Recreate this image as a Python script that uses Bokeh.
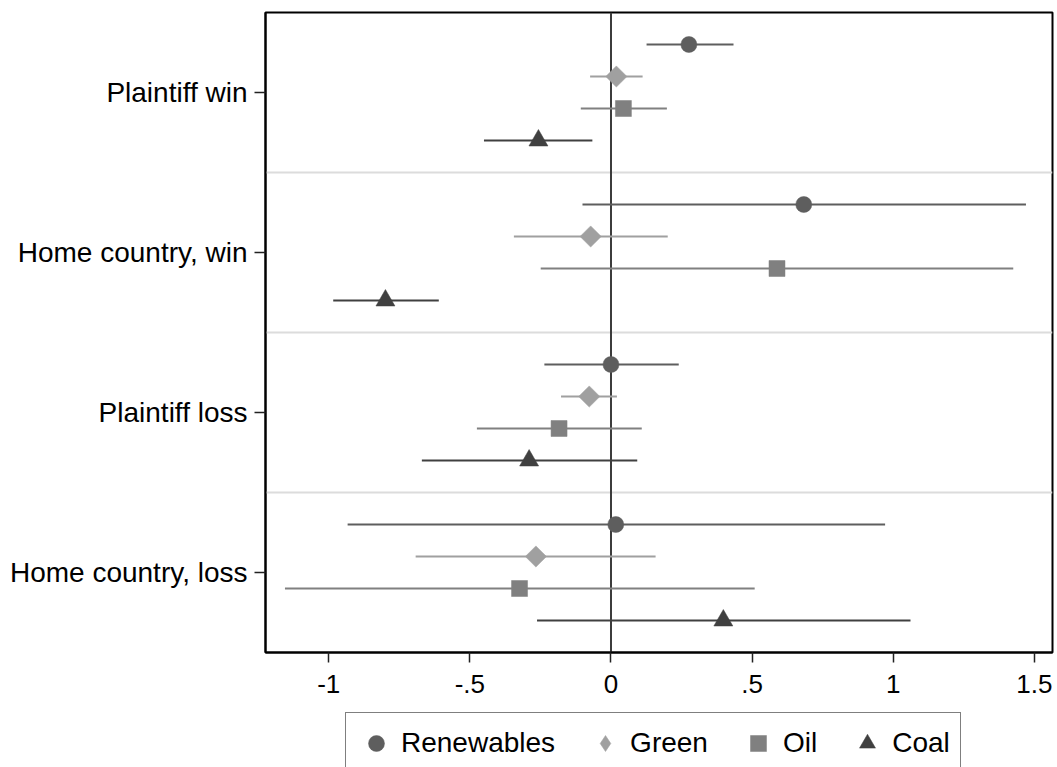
import math
from bokeh.plotting import figure
from bokeh.layouts import column
from bokeh.models import (Range1d, FixedTicker, Span, Legend, LegendItem, ColumnDataSource)
from bokeh.embed import file_html
from bokeh.resources import INLINE

# ---- data ----
groups = ["Plaintiff win", "Home country, win", "Plaintiff loss", "Home country, loss"]
series = ["Renewables", "Green", "Oil", "Coal"]

renew_est = [0.276, 0.683, 0.000, 0.017]
renew_lo = [0.126, -0.101, -0.236, -0.933]
renew_hi = [0.434, 1.470, 0.240, 0.971]

green_est = [0.019, -0.072, -0.077, -0.266]
green_lo = [-0.074, -0.344, -0.177, -0.692]
green_hi = [0.112, 0.201, 0.021, 0.158]

oil_est = [0.044, 0.588, -0.184, -0.324]
oil_lo = [-0.107, -0.249, -0.475, -1.155]
oil_hi = [0.198, 1.425, 0.109, 0.509]

coal_est = [-0.257, -0.799, -0.290, 0.398]
coal_lo = [-0.450, -0.984, -0.670, -0.262]
coal_hi = [-0.066, -0.610, 0.093, 1.061]

x_ticks = [-1, -0.5, 0, 0.5, 1, 1.5]
x_tick_labels = ["-1", "-.5", "0", ".5", "1", "1.5"]

# ---- styles ----
FONT = "Liberation Sans"
styles = [
    dict(marker="circle", size=16, color="#5e5e5e", angle=0.0, lmarker="circle"),
    dict(marker="square", size=15, color="#a0a0a0", angle=math.pi / 4, lmarker="diamond"),
    dict(marker="square", size=16, color="#808080", angle=0.0, lmarker="square"),
    dict(marker="triangle", size=19, color="#404040", angle=0.0, lmarker="triangle"),
]
all_est = [renew_est, green_est, oil_est, coal_est]
all_lo = [renew_lo, green_lo, oil_lo, coal_lo]
all_hi = [renew_hi, green_hi, oil_hi, coal_hi]

p = figure(
    width=1057, height=707,
    x_range=Range1d(-1.2239, 1.564), y_range=Range1d(20, 0),
    output_backend="svg", toolbar_location=None,
    min_border_left=265, min_border_top=12, min_border_right=5, min_border_bottom=55,
)
p.xgrid.visible = False
p.ygrid.visible = False
p.outline_line_color = "black"
p.outline_line_width = 2
p.background_fill_color = "white"
p.border_fill_color = "white"

# separators & zero line
for loc in [5, 10, 15]:
    p.add_layout(Span(location=loc, dimension="width", line_color="#dcdcdc",
                      line_width=2, level="underlay"))
p.add_layout(Span(location=0, dimension="height", line_color="#3c3c3c",
                  line_width=2, level="underlay"))

# legend strip (separate figure below the chart; its frame is aligned with the chart's)
leg = figure(
    width=1057, height=60, x_range=Range1d(100, 101), y_range=Range1d(100, 101),
    output_backend="svg", toolbar_location=None,
    x_axis_type=None, y_axis_type=None,
    min_border_left=0, min_border_top=0, min_border_right=0, min_border_bottom=0,
)
leg.outline_line_color = None
leg.background_fill_color = "white"
leg.border_fill_color = "white"

items = []
for s, name in enumerate(series):
    st = styles[s]
    ys = [g * 5 + s + 1 for g in range(len(groups))]
    src = ColumnDataSource(dict(y=ys, est=all_est[s], lo=all_lo[s], hi=all_hi[s]))
    p.segment(x0="lo", x1="hi", y0="y", y1="y", source=src,
              line_color=st["color"], line_width=2.2)
    p.scatter(x="est", y="y", source=src, marker=st["marker"], size=st["size"],
              angle=st["angle"], fill_color=st["color"], line_color=st["color"],
              line_width=0.5)
    lr = leg.scatter(x="est", y="y", source=src, marker=st["lmarker"], size=st["size"],
                     fill_color=st["color"], line_color=st["color"], line_width=0.5)
    items.append(LegendItem(label=name, renderers=[lr]))

# axes
xa = p.xaxis[0]
xa.ticker = FixedTicker(ticks=x_ticks)
xa.major_label_overrides = {t: l for t, l in zip(x_ticks, x_tick_labels)}
xa.minor_tick_line_color = None
xa.major_tick_out = 10
xa.major_tick_in = 0
xa.major_tick_line_width = 1.5
xa.major_tick_line_color = "#222222"
xa.axis_line_width = 2
xa.axis_line_color = "black"
xa.major_label_text_font = FONT
xa.major_label_text_font_size = "26px"
xa.major_label_text_color = "black"
xa.major_label_standoff = 12

ya = p.yaxis[0]
ya.ticker = FixedTicker(ticks=[2.5, 7.5, 12.5, 17.5])
ya.major_label_overrides = {g * 5 + 2.5: name for g, name in enumerate(groups)}
ya.minor_tick_line_color = None
ya.major_tick_out = 11
ya.major_tick_in = 0
ya.major_tick_line_width = 1.5
ya.major_tick_line_color = "#222222"
ya.axis_line_width = 2
ya.axis_line_color = "black"
ya.major_label_text_font = FONT
ya.major_label_text_font_size = "28px"
ya.major_label_text_color = "black"
ya.major_label_standoff = 7
ya.major_label_orientation = "horizontal"

legend = Legend(items=items, orientation="horizontal", location=(80, -7))
legend.label_text_font = FONT
legend.label_text_font_size = "28px"
legend.label_text_color = "black"
legend.border_line_color = "black"
legend.border_line_width = 1.5
legend.background_fill_color = "white"
legend.padding = 10
legend.spacing = 30
legend.label_standoff = 5
legend.glyph_width = 40
legend.glyph_height = 40
legend.margin = 0
leg.add_layout(legend, "center")

layout = column(p, leg, spacing=0)
open("out.html", "w").write(file_html(layout, INLINE))
